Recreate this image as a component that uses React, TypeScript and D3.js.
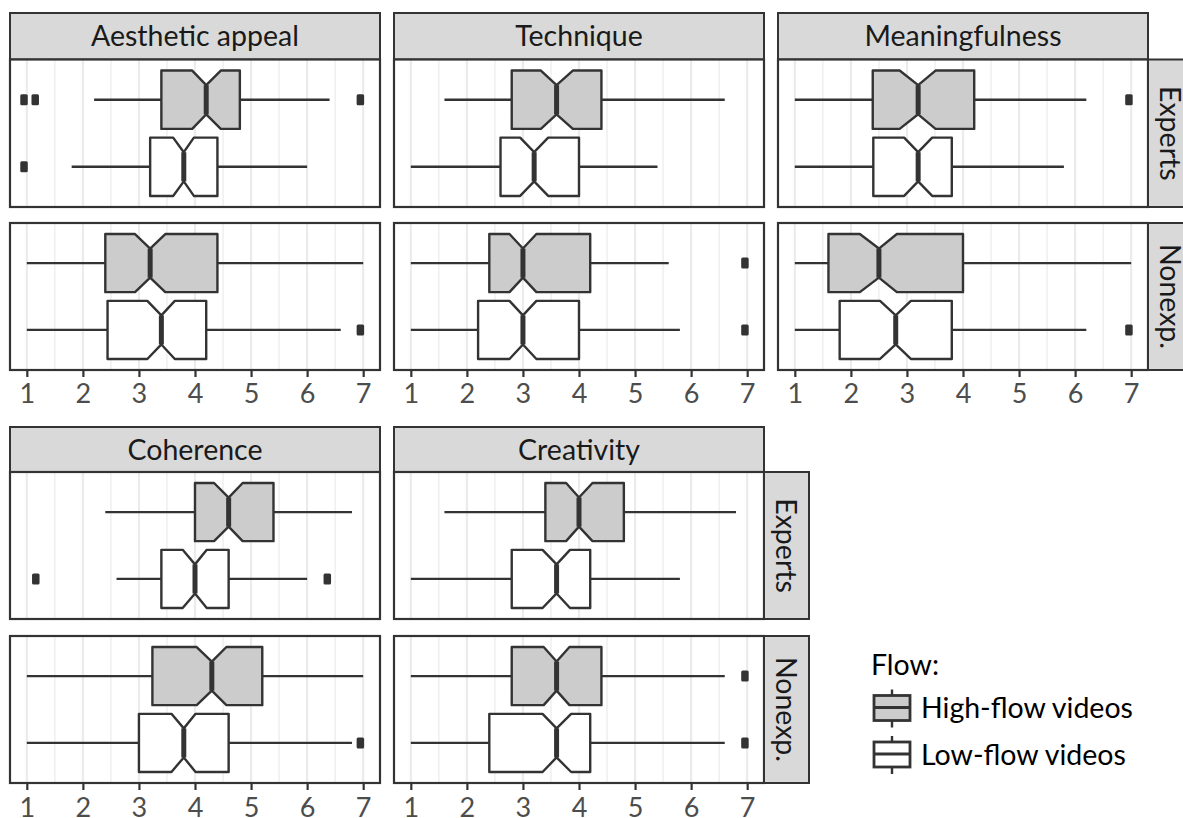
import React, { useRef, useEffect } from "react";
import * as d3 from "d3";

// stats: [lower whisker, q1, notch low, median, notch high, q3, upper whisker]
type Box = { group: string; flow: string; stats: number[]; out: number[] };

const facetNames = ["Aesthetic appeal", "Technique", "Meaningfulness", "Coherence", "Creativity"];
const rowGroups = ["Experts", "Nonexp."];
const flowLevels = ["High-flow videos", "Low-flow videos"];
const xTicks = [1, 2, 3, 4, 5, 6, 7];
const xMinor = [1.5, 2.5, 3.5, 4.5, 5.5, 6.5];

const aestheticAppeal: Box[] = [
  { group: "Experts", flow: "High-flow videos", stats: [2.2, 3.4, 3.95, 4.2, 4.46, 4.8, 6.4], out: [0.95, 1.15, 6.95] },
  { group: "Experts", flow: "Low-flow videos", stats: [1.8, 3.2, 3.61, 3.8, 3.98, 4.4, 6.0], out: [0.95] },
  { group: "Nonexp.", flow: "High-flow videos", stats: [1.0, 2.4, 2.93, 3.2, 3.47, 4.4, 7.0], out: [] },
  { group: "Nonexp.", flow: "Low-flow videos", stats: [1.0, 2.44, 3.15, 3.4, 3.64, 4.2, 6.6], out: [6.95] },
];

const technique: Box[] = [
  { group: "Experts", flow: "High-flow videos", stats: [1.6, 2.8, 3.32, 3.6, 3.89, 4.4, 6.6], out: [] },
  { group: "Experts", flow: "Low-flow videos", stats: [1.0, 2.6, 2.95, 3.2, 3.45, 4.0, 5.4], out: [] },
  { group: "Nonexp.", flow: "High-flow videos", stats: [1.0, 2.4, 2.76, 3.0, 3.24, 4.2, 5.6], out: [6.96] },
  { group: "Nonexp.", flow: "Low-flow videos", stats: [1.0, 2.2, 2.76, 3.0, 3.24, 4.0, 5.8], out: [6.96] },
];

const meaningfulness: Box[] = [
  { group: "Experts", flow: "High-flow videos", stats: [1.0, 2.39, 2.87, 3.2, 3.51, 4.2, 6.2], out: [6.96] },
  { group: "Experts", flow: "Low-flow videos", stats: [1.0, 2.4, 2.95, 3.2, 3.45, 3.8, 5.8], out: [] },
  { group: "Nonexp.", flow: "High-flow videos", stats: [1.0, 1.6, 2.16, 2.5, 2.82, 4.0, 7.0], out: [] },
  { group: "Nonexp.", flow: "Low-flow videos", stats: [1.0, 1.8, 2.52, 2.8, 3.07, 3.8, 6.2], out: [6.96] },
];

const coherence: Box[] = [
  { group: "Experts", flow: "High-flow videos", stats: [2.4, 4.0, 4.34, 4.6, 4.85, 5.4, 6.8], out: [] },
  { group: "Experts", flow: "Low-flow videos", stats: [2.6, 3.4, 3.78, 4.0, 4.21, 4.6, 6.0], out: [1.16, 6.36] },
  { group: "Nonexp.", flow: "High-flow videos", stats: [1.0, 3.24, 4.03, 4.3, 4.56, 5.2, 7.0], out: [] },
  { group: "Nonexp.", flow: "Low-flow videos", stats: [1.0, 3.0, 3.58, 3.8, 4.01, 4.6, 6.8], out: [6.95] },
];

const creativity: Box[] = [
  { group: "Experts", flow: "High-flow videos", stats: [1.6, 3.4, 3.77, 4.0, 4.24, 4.8, 6.8], out: [] },
  { group: "Experts", flow: "Low-flow videos", stats: [1.0, 2.8, 3.35, 3.6, 3.84, 4.2, 5.8], out: [] },
  { group: "Nonexp.", flow: "High-flow videos", stats: [1.0, 2.8, 3.37, 3.6, 3.83, 4.4, 6.6], out: [6.96] },
  { group: "Nonexp.", flow: "Low-flow videos", stats: [1.0, 2.4, 3.35, 3.6, 3.86, 4.2, 6.6], out: [6.96] },
];

const facetData = [aestheticAppeal, technique, meaningfulness, coherence, creativity];
const flowFill: Record<string, string> = { "High-flow videos": "#cccccc", "Low-flow videos": "#ffffff" };

const W = 1183;
const H = 818;
const FONT = "Lato, 'Noto Sans', sans-serif";
const DARK = "#333333";
const TITLE_SIZE = 28.5;

const colLeft = [10, 394, 778];
const panelW = 370;
const rows = [
  { stripTop: 13, stripBottom: 59.5, panels: [[59.5, 207], [223, 370]], tickLabelY: 403 },
  { stripTop: 427, stripBottom: 472, panels: [[472, 619], [636, 783]], tickLabelY: 817 },
];
const facetPos = [
  { col: 0, row: 0 },
  { col: 1, row: 0 },
  { col: 2, row: 0, rightStrip: true },
  { col: 0, row: 1 },
  { col: 1, row: 1, rightStrip: true },
];

const App: React.FC = () => {
  const svgRef = useRef<SVGSVGElement>(null);

  useEffect(() => {
    document.body.style.margin = "0";
    if (!svgRef.current) return;
    const svg = d3.select(svgRef.current);
    svg.selectAll("*").remove();

    facetData.forEach((boxes, fi) => {
      const pos = facetPos[fi];
      const row = rows[pos.row];
      const left = colLeft[pos.col];
      const x = d3.scaleLinear().domain([0.7, 7.3]).range([left, left + panelW]);

      // top strip
      svg
        .append("rect")
        .attr("x", left)
        .attr("y", row.stripTop)
        .attr("width", panelW)
        .attr("height", row.stripBottom - row.stripTop)
        .attr("fill", "#d9d9d9")
        .attr("stroke", DARK)
        .attr("stroke-width", 2);
      svg
        .append("text")
        .attr("x", left + panelW / 2)
        .attr("y", (row.stripTop + row.stripBottom) / 2 + 10)
        .attr("text-anchor", "middle")
        .attr("font-family", FONT)
        .attr("font-size", TITLE_SIZE)
        .attr("fill", "#1a1a1a")
        .text(facetNames[fi]);

      rowGroups.forEach((grp, gi) => {
        const [top, bottom] = row.panels[gi];
        const y = d3.scalePoint<string>().domain(flowLevels).range([top, bottom]).padding(0.6);
        const half = (y.step() * 0.87) / 2;
        const g = svg.append("g");

        g.append("rect")
          .attr("x", left)
          .attr("y", top)
          .attr("width", panelW)
          .attr("height", bottom - top)
          .attr("fill", "#ffffff");

        g.selectAll(".minor")
          .data(xMinor)
          .join("line")
          .attr("x1", (d) => x(d))
          .attr("x2", (d) => x(d))
          .attr("y1", top)
          .attr("y2", bottom)
          .attr("stroke", "#ebebeb")
          .attr("stroke-width", 1.2);
        g.selectAll(".major")
          .data(xTicks)
          .join("line")
          .attr("x1", (d) => x(d))
          .attr("x2", (d) => x(d))
          .attr("y1", top)
          .attr("y2", bottom)
          .attr("stroke", "#ebebeb")
          .attr("stroke-width", 2.2);

        boxes
          .filter((b) => b.group === grp)
          .forEach((b) => {
            const cy = y(b.flow)!;
            const [lo, q1, nl, med, nu, q3, hi] = b.stats;
            g.append("line")
              .attr("x1", x(lo))
              .attr("x2", x(hi))
              .attr("y1", cy)
              .attr("y2", cy)
              .attr("stroke", DARK)
              .attr("stroke-width", 2.4);

            const pts: [number, number][] = [
              [x(q1), cy - half],
              [x(nl), cy - half],
              [x(med), cy - half / 2],
              [x(nu), cy - half],
              [x(q3), cy - half],
              [x(q3), cy + half],
              [x(nu), cy + half],
              [x(med), cy + half / 2],
              [x(nl), cy + half],
              [x(q1), cy + half],
            ];
            g.append("path")
              .attr("d", d3.line()(pts) + "Z")
              .attr("fill", flowFill[b.flow])
              .attr("stroke", DARK)
              .attr("stroke-width", 2.4)
              .attr("stroke-linejoin", "round");

            g.append("line")
              .attr("x1", x(med))
              .attr("x2", x(med))
              .attr("y1", cy - half / 2)
              .attr("y2", cy + half / 2)
              .attr("stroke", DARK)
              .attr("stroke-width", 5);

            g.selectAll(null)
              .data(b.out)
              .join("rect")
              .attr("x", (d) => x(d) - 3.75)
              .attr("y", cy - 5.5)
              .attr("width", 7.5)
              .attr("height", 11)
              .attr("rx", 1.5)
              .attr("fill", DARK);
          });

        g.append("rect")
          .attr("x", left)
          .attr("y", top)
          .attr("width", panelW)
          .attr("height", bottom - top)
          .attr("fill", "none")
          .attr("stroke", DARK)
          .attr("stroke-width", 2.2);

        if (pos.rightStrip) {
          const sx = left + panelW;
          svg
            .append("rect")
            .attr("x", sx)
            .attr("y", top)
            .attr("width", 45)
            .attr("height", bottom - top)
            .attr("fill", "#d9d9d9")
            .attr("stroke", DARK)
            .attr("stroke-width", 2);
          svg
            .append("text")
            .attr("transform", `translate(${sx + 22},${(top + bottom) / 2}) rotate(90)`)
            .attr("y", 10)
            .attr("text-anchor", "middle")
            .attr("font-family", FONT)
            .attr("font-size", TITLE_SIZE)
            .attr("fill", "#1a1a1a")
            .text(grp);
        }
      });

      // x axis under the lower panel
      const axisY = row.panels[1][1];
      const ax = svg.append("g").attr("transform", `translate(0,${axisY})`);
      ax.call(
        d3.axisBottom(x).tickValues(xTicks).tickFormat(d3.format("d")).tickSize(7).tickSizeOuter(0)
      );
      ax.select(".domain").remove();
      ax.selectAll(".tick line").attr("stroke", DARK).attr("stroke-width", 2.2);
      ax.selectAll(".tick text")
        .attr("font-family", FONT)
        .attr("font-size", 27)
        .attr("fill", "#4d4d4d")
        .attr("dy", null)
        .attr("y", row.tickLabelY - axisY);
    });

    // legend
    const lg = svg.append("g");
    lg.append("text")
      .attr("x", 871)
      .attr("y", 675)
      .attr("font-family", FONT)
      .attr("font-size", TITLE_SIZE)
      .attr("fill", "#000000")
      .text("Flow:");
    const key = d3.scalePoint<string>().domain(flowLevels).range([707.5, 754]);
    flowLevels.forEach((f) => {
      const cy = key(f)!;
      lg.append("line")
        .attr("x1", 892)
        .attr("x2", 892)
        .attr("y1", cy - 18)
        .attr("y2", cy + 20)
        .attr("stroke", DARK)
        .attr("stroke-width", 2.4);
      lg.append("rect")
        .attr("x", 874)
        .attr("y", cy - 12)
        .attr("width", 36)
        .attr("height", 25)
        .attr("fill", flowFill[f])
        .attr("stroke", DARK)
        .attr("stroke-width", 2.8);
      lg.append("line")
        .attr("x1", 874)
        .attr("x2", 910)
        .attr("y1", cy)
        .attr("y2", cy)
        .attr("stroke", DARK)
        .attr("stroke-width", 2.8);
      lg.append("text")
        .attr("x", 921)
        .attr("y", cy + 10.5)
        .attr("font-family", FONT)
        .attr("font-size", TITLE_SIZE)
        .attr("fill", "#000000")
        .text(f);
    });
  }, []);

  return <svg ref={svgRef} width={W} height={H} style={{ display: "block" }}></svg>;
};

export default App;
